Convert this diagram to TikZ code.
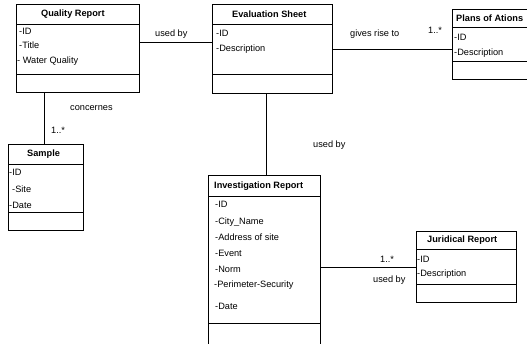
\documentclass[tikz,border=0pt]{standalone}
\usepackage{fontspec}
\setmainfont{Liberation Sans}
\begin{document}
\begin{tikzpicture}[x=1pt,y=-1pt,
  cls/.style={draw,line width=0.8pt,anchor=north west,inner sep=0pt},
  ttl/.style={anchor=west,inner sep=0pt,font=\fontsize{9.2}{11}\selectfont\bfseries},
  att/.style={anchor=west,inner sep=0pt,font=\fontsize{9.2}{11}\selectfont},
  lbl/.style={anchor=west,inner sep=0pt,font=\fontsize{9.2}{11}\selectfont},
  conn/.style={line width=0.8pt},
  sep/.style={line width=0.8pt}]
\useasboundingbox (0,0) rectangle (527,343);
% Quality Report
\node[cls,minimum width=123pt,minimum height=88pt] (qr) at (16,4) {};
\draw[sep] ([yshift=-20]qr.north west) -- ([yshift=-20]qr.north east);
\draw[sep] ([yshift=-70]qr.north west) -- ([yshift=-70]qr.north east);
\node[ttl] (qrt) at (41,14) {Quality Report};
\node[att] (qr1) at (19,31) {-ID};
\node[att] (qr2) at (19,45) {-Title};
\node[att] (qr3) at (17,61) {- Water Quality};
% Evaluation Sheet
\node[cls,minimum width=120pt,minimum height=89pt] (es) at (212,4) {};
\draw[sep] ([yshift=-20]es.north west) -- ([yshift=-20]es.north east);
\draw[sep] ([yshift=-70]es.north west) -- ([yshift=-70]es.north east);
\node[ttl] (est) at (232,14) {Evaluation Sheet};
\node[att] (es1) at (216,33) {-ID};
\node[att] (es2) at (216,49) {-Description};
% Plans of Ations
\node[cls,minimum width=80pt,minimum height=70pt] (pl) at (452,9) {};
\draw[sep] ([yshift=-18]pl.north west) -- ([yshift=-18]pl.north east);
\draw[sep] ([yshift=-52]pl.north west) -- ([yshift=-52]pl.north east);
\node[ttl] (plt) at (456,18) {Plans of Ations};
\node[att] (pl1) at (454,37) {-ID};
\node[att] (pl2) at (454,53) {-Description};
% Sample
\node[cls,minimum width=75pt,minimum height=86pt] (sm) at (8,144) {};
\draw[sep] ([yshift=-20]sm.north west) -- ([yshift=-20]sm.north east);
\draw[sep] ([yshift=-68]sm.north west) -- ([yshift=-68]sm.north east);
\node[ttl] (smt) at (27,154) {Sample};
\node[att] (sm1) at (9,172) {-ID};
\node[att] (sm2) at (12,189) {-Site};
\node[att] (sm3) at (9,205) {-Date};
% Investigation Report
\node[cls,minimum width=112pt,minimum height=180pt] (ir) at (208,175) {};
\draw[sep] ([yshift=-21]ir.north west) -- ([yshift=-21]ir.north east);
\draw[sep] ([yshift=-148]ir.north west) -- ([yshift=-148]ir.north east);
\node[ttl] (irt) at (214,186) {Investigation Report};
\node[att] (ir1) at (215,204) {-ID};
\node[att] (ir2) at (215,222) {-City\_Name};
\node[att] (ir3) at (215,237) {-Address of site};
\node[att] (ir4) at (215,253) {-Event};
\node[att] (ir5) at (215,269) {-Norm};
\node[att] (ir6) at (214,285) {-Perimeter-Security};
\node[att] (ir7) at (215,306) {-Date};
% Juridical Report
\node[cls,minimum width=100pt,minimum height=71pt] (jr) at (416,231) {};
\draw[sep] ([yshift=-18]jr.north west) -- ([yshift=-18]jr.north east);
\draw[sep] ([yshift=-53]jr.north west) -- ([yshift=-53]jr.north east);
\node[ttl] (jrt) at (427,240) {Juridical Report};
\node[att] (jr1) at (417,259) {-ID};
\node[att] (jr2) at (417,274) {-Description};
% connectors
\draw[conn] ([yshift=-38]qr.north east) -- ([yshift=-38]es.north west);
\draw[conn] ([xshift=28]qr.south west) -- ([xshift=36]sm.north west);
\draw[conn] ([yshift=-45]es.north east) -- ([yshift=-40]pl.north west);
\draw[conn] ([xshift=54]es.south west) -- ([xshift=58]ir.north west);
\draw[conn] ([yshift=-92]ir.north east) -- ([yshift=-36]jr.north west);
% labels
\node[lbl] (l1) at (155,34) {used by};
\node[lbl] (l2) at (70,108) {concernes};
\node[lbl] (l3) at (51,130) {1..*};
\node[lbl] (l4) at (350,34) {gives rise to};
\node[lbl] (l5) at (428,30) {1..*};
\node[lbl] (l6) at (313,145) {used by};
\node[lbl] (l7) at (380,259) {1..*};
\node[lbl] (l8) at (373,280) {used by};
\end{tikzpicture}
\end{document}
